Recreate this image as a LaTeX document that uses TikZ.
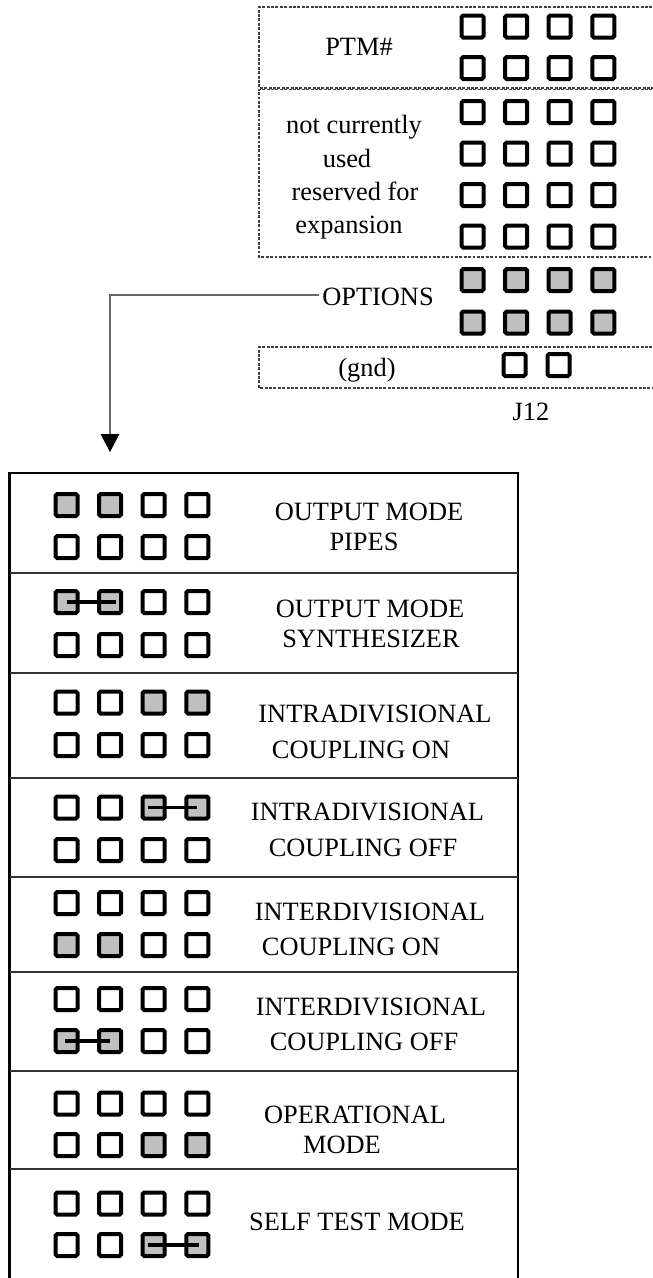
\documentclass[tikz,border=0pt]{standalone}
\usepackage{fontspec}
\setmainfont{Liberation Serif}
\usetikzlibrary{arrows.meta}
\definecolor{pingray}{HTML}{C0C0C0}
\tikzset{
  pinoff/.style={shape=rectangle, draw=black, fill=white, line width=3pt, rounded corners=1.2pt, minimum size=16.5pt, inner sep=0pt},
  pinon/.style={pinoff, fill=pingray},
  jumper/.style={line width=2.6pt, black},
  dbox/.style={draw=black!75, dash pattern=on 2.2pt off 1.1pt, line width=0.8pt},
  lbl/.style={font=\fontsize{19.8}{24}\selectfont, anchor=base, inner sep=0pt},
  frame/.style={line width=2.1pt, black},
  divider/.style={line width=1.1pt, black!80},
  conn/.style={line width=0.9pt, black!60, -{Triangle[width=14pt,length=13.5pt,color=black]}}
}
% #1 prefix, #2 x of first column, #3 y, #4..#7 styles
\newcommand\pinrow[7]{%
  \node[#4] (#1a) at (#2,#3) {};
  \node[#5] (#1b) at ({#2+43.6},#3) {};
  \node[#6] (#1c) at ({#2+87.2},#3) {};
  \node[#7] (#1d) at ({#2+130.8},#3) {};
}
\begin{document}
\begin{tikzpicture}[x=0.75pt,y=-0.75pt]
\useasboundingbox (0,0) rectangle (653,1278);
\clip (0,0) rectangle (653,1278);

% ---------- J12 header (top right) ----------
\draw[dbox] (670,7) -- (259,7) -- (259,88) -- (670,88);
\draw[dbox] (670,89.5) -- (259,89.5) -- (259,257) -- (670,257);
\draw[dbox] (670,347) -- (259,347) -- (259,388) -- (670,388);

\node[lbl] (ptm) at (359,55) {PTM\#};
\node[lbl] (nc1) at (354,133) {not currently};
\node[lbl] (nc2) at (347,167) {used};
\node[lbl] (nc3) at (355,200) {reserved for};
\node[lbl] (nc4) at (349,233) {expansion};
\node[lbl, inner xsep=2.5pt, inner ysep=0pt] (options) at (378,305) {OPTIONS};
\node[lbl] (gnd) at (367,376) {(gnd)};
\node[lbl] (j12) at (531,420) {J12};

\pinrow{h1}{472.5}{26.5}{pinoff}{pinoff}{pinoff}{pinoff}
\pinrow{h2}{472.5}{68}{pinoff}{pinoff}{pinoff}{pinoff}
\pinrow{h3}{472.5}{112}{pinoff}{pinoff}{pinoff}{pinoff}
\pinrow{h4}{472.5}{153.5}{pinoff}{pinoff}{pinoff}{pinoff}
\pinrow{h5}{472.5}{195}{pinoff}{pinoff}{pinoff}{pinoff}
\pinrow{h6}{472.5}{236.5}{pinoff}{pinoff}{pinoff}{pinoff}
\pinrow{h7}{472.5}{280}{pinon}{pinon}{pinon}{pinon}
\pinrow{h8}{472.5}{322.5}{pinon}{pinon}{pinon}{pinon}
\node[pinoff] (g1) at (514.5,365) {};
\node[pinoff] (g2) at (558.5,365) {};

% ---------- connector ----------
\coordinate (arrowend) at (110,452);
\draw[conn] ([yshift=1pt]options.west) -| (arrowend);

% ---------- options table ----------
\draw[frame] (9.5,1290) -- (9.5,473) -- (518,473) -- (518,1290);
\foreach \yy in {573,673,778,877,972,1071,1169}
  \draw[divider] (9.5,\yy) -- (518,\yy);

% section 1
\pinrow{a1}{66.5}{505}{pinon}{pinon}{pinoff}{pinoff}
\pinrow{a2}{66.5}{547}{pinoff}{pinoff}{pinoff}{pinoff}
\node[lbl] (t1a) at (369,520) {OUTPUT MODE};
\node[lbl] (t1b) at (364,550) {PIPES};
% section 2
\pinrow{b1}{66.5}{602}{pinon}{pinon}{pinoff}{pinoff}
\pinrow{b2}{66.5}{645}{pinoff}{pinoff}{pinoff}{pinoff}
\draw[jumper] ([xshift=0pt]b1a.center) -- ([xshift=4.5pt]b1b.center);
\node[lbl] (t2a) at (370,617) {OUTPUT MODE};
\node[lbl] (t2b) at (371,647) {SYNTHESIZER};
% section 3
\pinrow{c1}{66.5}{702.5}{pinoff}{pinoff}{pinon}{pinon}
\pinrow{c2}{66.5}{745}{pinoff}{pinoff}{pinoff}{pinoff}
\node[lbl] (t3a) at (375,722) {INTRADIVISIONAL};
\node[lbl] (t3b) at (361,758) {COUPLING ON};
% section 4
\pinrow{d1}{66.5}{807.5}{pinoff}{pinoff}{pinon}{pinon}
\pinrow{d2}{66.5}{850}{pinoff}{pinoff}{pinoff}{pinoff}
\draw[jumper] ([xshift=-4.5pt]d1c.center) -- ([xshift=0pt]d1d.center);
\node[lbl] (t4a) at (367.5,820) {INTRADIVISIONAL};
\node[lbl] (t4b) at (363,856) {COUPLING OFF};
% section 5
\pinrow{e1}{66.5}{903}{pinoff}{pinoff}{pinoff}{pinoff}
\pinrow{e2}{66.5}{945}{pinon}{pinon}{pinoff}{pinoff}
\node[lbl] (t5a) at (370,920) {INTERDIVISIONAL};
\node[lbl] (t5b) at (351,955) {COUPLING ON};
% section 6
\pinrow{f1}{66.5}{999}{pinoff}{pinoff}{pinoff}{pinoff}
\pinrow{f2}{66.5}{1041}{pinon}{pinon}{pinoff}{pinoff}
\draw[jumper] ([xshift=-1pt]f2a.center) -- ([xshift=0pt]f2b.center);
\node[lbl] (t6a) at (371,1015) {INTERDIVISIONAL};
\node[lbl] (t6b) at (364,1050) {COUPLING OFF};
% section 7
\pinrow{g1}{66.5}{1103.5}{pinoff}{pinoff}{pinoff}{pinoff}
\pinrow{g2}{66.5}{1145}{pinoff}{pinoff}{pinon}{pinon}
\node[lbl] (t7a) at (355,1123) {OPERATIONAL};
\node[lbl] (t7b) at (342,1153) {MODE};
% section 8
\pinrow{k1}{66.5}{1203.5}{pinoff}{pinoff}{pinoff}{pinoff}
\pinrow{k2}{66.5}{1245}{pinoff}{pinoff}{pinon}{pinon}
\draw[jumper] ([xshift=-4pt]k2c.center) -- ([xshift=1.5pt]k2d.center);
\node[lbl] (t8a) at (357,1230) {SELF TEST MODE};
\end{tikzpicture}
\end{document}
